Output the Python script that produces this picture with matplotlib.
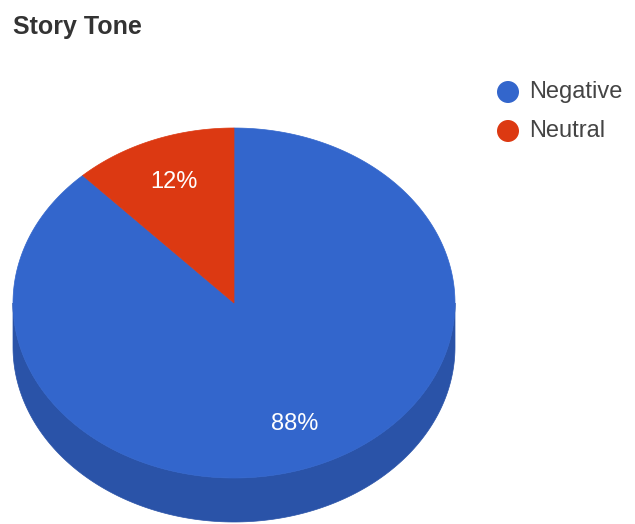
import numpy as np
import matplotlib
matplotlib.use("Agg")
import matplotlib.pyplot as plt
from matplotlib.patches import Polygon, Circle

# ---- data ----
title = "Story Tone"
labels = ["Negative", "Neutral"]
values = [88, 12]
colors = ["#3366CC", "#DC3912"]
side_colors = ["#2A53A8", "#A82B0E"]

W, H = 635, 524
fig = plt.figure(figsize=(W / 100, H / 100), dpi=100)
ax = fig.add_axes([0, 0, 1, 1])

# pixel geometry of pie (top face ellipse)
cx, cy, rx, ry, depth = 234, 303, 221, 175, 44

def to_px(x, y):
    return cx + rx * x, cy - ry * y

total = sum(values)
fracs = [v / total for v in values]
# clockwise from 12 o'clock
start = 90.0
angles = []
a = start
for f in fracs:
    angles.append((a, a - 360 * f))
    a -= 360 * f

# side wall (front half visible: angles between 180 and 360 i.e. sin<0)
for (a0, a1), sc in zip(angles, side_colors):
    lo, hi = min(a0, a1), max(a0, a1)
    # normalize into intervals overlapping [-180, 0] (+360k)
    for k in (-360, 0, 360):
        l = max(lo + k, -180)
        h = min(hi + k, 0)
        if h > l:
            t = np.radians(np.linspace(l, h, 200))
            xs, ys = to_px(np.cos(t), np.sin(t))
            pts = np.concatenate([np.column_stack([xs, ys]),
                                  np.column_stack([xs[::-1], ys[::-1] + depth])])
            ax.add_patch(Polygon(pts, closed=True, facecolor=sc, edgecolor=sc,
                                 linewidth=0.5, zorder=1))

# top face
for (a0, a1), c, f in zip(angles, colors, fracs):
    t = np.radians(np.linspace(a0, a1, 300))
    xs, ys = to_px(np.cos(t), np.sin(t))
    pts = np.vstack([[cx, cy], np.column_stack([xs, ys])])
    ax.add_patch(Polygon(pts, closed=True, facecolor=c, edgecolor=c,
                         linewidth=0.5, zorder=2))
    mid = np.radians((a0 + a1) / 2)
    lx, ly = to_px(0.743 * np.cos(mid), 0.743 * np.sin(mid))
    ax.text(lx, ly, f"{round(f * 100)}%", color="white", fontsize=17,
            family="Liberation Sans", ha="center", va="center", zorder=3)

# title
ax.text(13, 27, title, fontsize=18, fontweight="bold", color="#333333",
        family="Liberation Sans", ha="left", va="center")

# legend
leg_y = [92, 131]
for lab, c, yy in zip(labels, colors, leg_y):
    ax.add_patch(Circle((508, yy), 11, facecolor=c, edgecolor="none", zorder=3))
    ax.text(529, yy, lab, fontsize=17, color="#444444", family="Liberation Sans",
            ha="left", va="center")

ax.set_xlim(0, W)
ax.set_ylim(H, 0)
ax.axis("off")
fig.savefig("out.png", dpi=100, facecolor="white")
